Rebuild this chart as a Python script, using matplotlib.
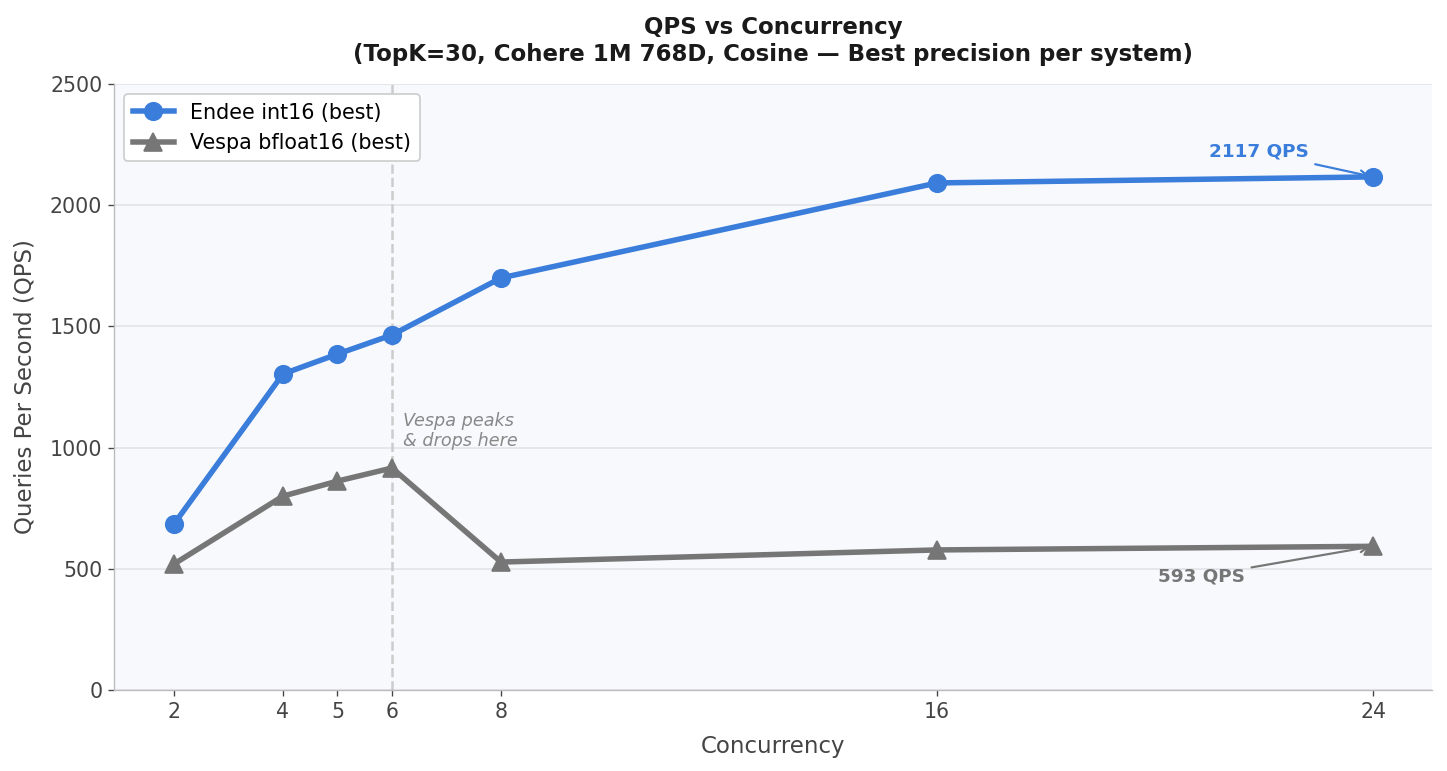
import numpy as np
import matplotlib.pyplot as plt

concurrency = [2, 4, 5, 6, 8, 16, 24]
endee_qps = [685, 1304, 1386, 1465, 1700, 2092, 2117]
vespa_qps = [520, 800, 862, 916, 528, 578, 593]

blue = '#3a7dda'
grey = '#767676'

fig = plt.figure(figsize=(1447 / 120, 771 / 120), dpi=120)
ax = fig.add_axes([0.0788, 0.105, 0.9108, 0.786])
ax.set_facecolor('#f8f9fd')

ax.plot(concurrency, endee_qps, color=blue, lw=3.3, marker='o', ms=10.5,
        label='Endee int16 (best)', zorder=3)
ax.plot(concurrency, vespa_qps, color=grey, lw=3.3, marker='^', ms=10.5,
        label='Vespa bfloat16 (best)', zorder=3)

ax.axvline(6, color='#cccccc', ls='--', lw=1.5, zorder=1)
ax.text(6.2, 990, 'Vespa peaks\n& drops here', fontsize=10.6, style='italic',
        color='#888888', va='bottom', ha='left', linespacing=1.15)

ax.annotate(f'{endee_qps[-1]} QPS', xy=(24, endee_qps[-1]), xytext=(21.9, 2220),
            fontsize=11, fontweight='bold', color=blue, ha='center', va='center',
            arrowprops=dict(arrowstyle='->', color=blue, lw=1.3))
ax.annotate(f'{vespa_qps[-1]} QPS', xy=(24, vespa_qps[-1]), xytext=(20.85, 470),
            fontsize=11, fontweight='bold', color=grey, ha='center', va='center',
            arrowprops=dict(arrowstyle='->', color=grey, lw=1.3))

ax.set_xlim(0.9, 25.08)
ax.set_ylim(0, 2500)
ax.set_xticks(concurrency)
ax.set_yticks(np.arange(0, 2501, 500))
ax.tick_params(labelsize=12.3, colors='#444444')
ax.grid(axis='y', color='#e2e4ea', lw=1)
ax.set_axisbelow(True)
for s in ['top', 'right']:
    ax.spines[s].set_visible(False)
for s in ['left', 'bottom']:
    ax.spines[s].set_color('#bbbbbb')

ax.set_xlabel('Concurrency', fontsize=13.7, color='#444444', labelpad=8)
ax.set_ylabel('Queries Per Second (QPS)', fontsize=13.7, color='#444444', labelpad=8)
ax.set_title('QPS vs Concurrency\n(TopK=30, Cohere 1M 768D, Cosine — Best precision per system)',
             fontsize=13.7, fontweight='bold', color='#1a1a1a', pad=14)
ax.legend(loc='upper left', fontsize=12.4, framealpha=1)

fig.savefig('out.png', dpi=120)
